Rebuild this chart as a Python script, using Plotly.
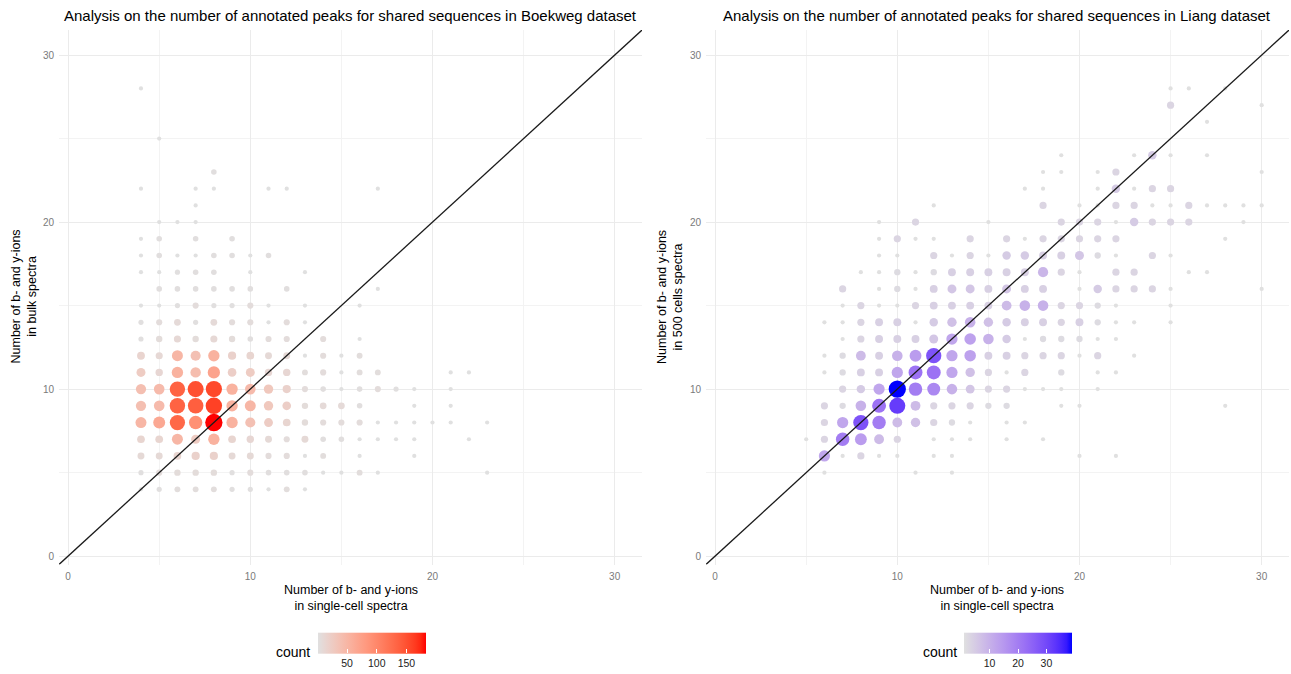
import math
import plotly.graph_objects as go

# ---------------- data: Boekweg (single-cell vs bulk) ----------------
boek_x = [4,
          5,
          8,
          4, 7, 8, 11, 12, 17,
          7,
          5, 6, 7,
          4, 5, 7, 9,
          4, 5, 6, 7, 8, 9, 10, 11,
          4, 5, 6, 7, 8, 10, 13,
          5, 6, 7, 8, 9, 10, 12, 17,
          4, 5, 6, 7, 8, 9, 10, 11, 13, 16,
          4, 5, 6, 7, 8, 9, 10, 11, 12, 13,
          4, 5, 6, 7, 8, 9, 10, 11, 12, 14, 16,
          4, 5, 6, 7, 8, 9, 10, 11, 12, 13, 14, 15, 16,
          4, 5, 6, 7, 8, 9, 10, 11, 12, 13, 14, 15, 16, 17, 21, 22,
          4, 5, 6, 7, 8, 9, 10, 11, 12, 13, 14, 15, 16, 17, 18, 19, 21,
          4, 5, 6, 7, 8, 9, 10, 11, 12, 13, 14, 15, 16, 19, 21,
          4, 5, 6, 7, 8, 9, 10, 11, 12, 13, 14, 15, 16, 17, 18, 19, 20, 21, 23,
          4, 5, 6, 7, 8, 9, 10, 11, 12, 13, 14, 15, 16, 17, 18, 19, 22,
          4, 5, 6, 7, 8, 9, 10, 11, 12, 13, 14, 16, 19,
          4, 5, 6, 7, 8, 9, 10, 11, 12, 13, 14, 15, 16, 17, 23,
          4, 5, 6, 7, 8, 9, 10, 11, 12, 13]
boek_y = [28,
          25,
          23,
          22, 22, 22, 22, 22, 22,
          21,
          20, 20, 20,
          19, 19, 19, 19,
          18, 18, 18, 18, 18, 18, 18, 18,
          17, 17, 17, 17, 17, 17, 17,
          16, 16, 16, 16, 16, 16, 16, 16,
          15, 15, 15, 15, 15, 15, 15, 15, 15, 15,
          14, 14, 14, 14, 14, 14, 14, 14, 14, 14,
          13, 13, 13, 13, 13, 13, 13, 13, 13, 13, 13,
          12, 12, 12, 12, 12, 12, 12, 12, 12, 12, 12, 12, 12,
          11, 11, 11, 11, 11, 11, 11, 11, 11, 11, 11, 11, 11, 11, 11, 11,
          10, 10, 10, 10, 10, 10, 10, 10, 10, 10, 10, 10, 10, 10, 10, 10, 10,
          9, 9, 9, 9, 9, 9, 9, 9, 9, 9, 9, 9, 9, 9, 9,
          8, 8, 8, 8, 8, 8, 8, 8, 8, 8, 8, 8, 8, 8, 8, 8, 8, 8, 8,
          7, 7, 7, 7, 7, 7, 7, 7, 7, 7, 7, 7, 7, 7, 7, 7, 7,
          6, 6, 6, 6, 6, 6, 6, 6, 6, 6, 6, 6, 6,
          5, 5, 5, 5, 5, 5, 5, 5, 5, 5, 5, 5, 5, 5, 5,
          4, 4, 4, 4, 4, 4, 4, 4, 4, 4]
boek_n = [1,
          1,
          3,
          1, 1, 1, 1, 1, 1,
          1,
          1, 1, 1,
          1, 3, 3, 3,
          1, 3, 1, 1, 3, 3, 1, 3,
          1, 1, 2, 3, 3, 1, 1,
          3, 3, 3, 3, 3, 3, 3, 1,
          1, 1, 2, 5, 2, 2, 5, 1, 1, 1,
          2, 5, 8, 2, 8, 5, 5, 1, 5, 1,
          2, 6, 10, 6, 10, 6, 3, 5, 5, 5, 1,
          15, 10, 50, 38, 55, 18, 14, 9, 9, 1, 5, 1, 4,
          25, 12, 55, 42, 70, 22, 25, 12, 12, 4, 5, 1, 4, 4, 1, 1,
          40, 45, 135, 150, 155, 55, 45, 30, 18, 5, 3, 1, 3, 5, 2, 1, 1,
          40, 45, 135, 138, 160, 55, 50, 30, 22, 6, 8, 8, 3, 1, 1,
          50, 65, 130, 90, 183, 55, 38, 24, 14, 6, 5, 5, 5, 1, 1, 1, 1, 1, 1,
          14, 14, 50, 25, 55, 14, 12, 9, 5, 9, 3, 3, 1, 1, 1, 1, 1,
          9, 9, 14, 18, 18, 9, 9, 5, 5, 1, 4, 1, 1,
          2, 5, 6, 6, 6, 2, 5, 3, 3, 3, 1, 1, 4, 1, 1,
          1, 2, 4, 4, 4, 2, 2, 1, 4, 1]

# ---------------- data: Liang (single-cell vs 500 cells) ----------------
liang_x = [25, 26, 28,
           25, 30,
           27,
           19, 23, 24, 25, 27,
           18, 19, 21, 22, 30,
           17, 18, 21, 22, 23, 24, 25,
           12, 18, 20, 21, 22, 23, 24, 25, 26, 27, 28, 29, 30,
           9, 11, 15, 19, 20, 21, 22, 23, 24, 25, 26, 29,
           9, 10, 11, 12, 14, 16, 17, 18, 19, 20, 21, 22, 28,
           9, 10, 12, 13, 14, 15, 16, 17, 18, 19, 20, 21, 22, 24, 25,
           8, 9, 10, 11, 12, 13, 14, 15, 16, 17, 18, 19, 20, 22, 23, 26, 27,
           7, 9, 10, 11, 12, 13, 14, 15, 16, 17, 18, 20, 21, 22, 23, 24, 25, 30,
           7, 8, 9, 10, 11, 12, 13, 14, 15, 16, 17, 18, 19, 20, 21, 22, 25,
           6, 7, 8, 9, 10, 11, 12, 13, 14, 15, 16, 17, 18, 19, 20, 21, 22, 23, 25,
           7, 8, 9, 10, 11, 12, 13, 14, 15, 16, 17, 18, 19, 20, 21, 22,
           6, 7, 8, 9, 10, 11, 12, 13, 14, 15, 16, 17, 18, 19, 20, 21, 23,
           6, 7, 8, 9, 10, 11, 12, 13, 14, 15, 16, 17, 19, 21, 22,
           7, 8, 9, 10, 11, 12, 13, 14, 15, 16, 17, 18, 19, 21,
           6, 7, 8, 9, 10, 11, 12, 13, 14, 15, 16, 19, 20, 28,
           6, 7, 8, 9, 10, 11, 12, 13, 14, 16, 17,
           5, 6, 7, 8, 9, 10, 12, 13, 14, 16, 18,
           6, 7, 8, 9, 10, 12, 13, 20, 22,
           6, 11, 13]
liang_y = [28, 28, 28,
           27, 27,
           26,
           24, 24, 24, 24, 24,
           23, 23, 23, 23, 23,
           22, 22, 22, 22, 22, 22, 22,
           21, 21, 21, 21, 21, 21, 21, 21, 21, 21, 21, 21, 21,
           20, 20, 20, 20, 20, 20, 20, 20, 20, 20, 20, 20,
           19, 19, 19, 19, 19, 19, 19, 19, 19, 19, 19, 19, 19,
           18, 18, 18, 18, 18, 18, 18, 18, 18, 18, 18, 18, 18, 18, 18,
           17, 17, 17, 17, 17, 17, 17, 17, 17, 17, 17, 17, 17, 17, 17, 17, 17,
           16, 16, 16, 16, 16, 16, 16, 16, 16, 16, 16, 16, 16, 16, 16, 16, 16, 16,
           15, 15, 15, 15, 15, 15, 15, 15, 15, 15, 15, 15, 15, 15, 15, 15, 15,
           14, 14, 14, 14, 14, 14, 14, 14, 14, 14, 14, 14, 14, 14, 14, 14, 14, 14, 14,
           13, 13, 13, 13, 13, 13, 13, 13, 13, 13, 13, 13, 13, 13, 13, 13,
           12, 12, 12, 12, 12, 12, 12, 12, 12, 12, 12, 12, 12, 12, 12, 12, 12,
           11, 11, 11, 11, 11, 11, 11, 11, 11, 11, 11, 11, 11, 11, 11,
           10, 10, 10, 10, 10, 10, 10, 10, 10, 10, 10, 10, 10, 10,
           9, 9, 9, 9, 9, 9, 9, 9, 9, 9, 9, 9, 9, 9,
           8, 8, 8, 8, 8, 8, 8, 8, 8, 8, 8,
           7, 7, 7, 7, 7, 7, 7, 7, 7, 7, 7,
           6, 6, 6, 6, 6, 6, 6, 6, 6,
           5, 5, 5]
liang_n = [1, 1, 1,
           3, 1,
           1,
           1, 1, 5, 1, 1,
           1, 1, 1, 3, 1,
           1, 1, 1, 5, 1, 3, 3,
           1, 3, 1, 1, 3, 3, 1, 1, 3, 1, 1, 1, 1,
           1, 3, 1, 3, 3, 3, 1, 5, 3, 3, 3, 1,
           1, 3, 1, 1, 3, 3, 1, 3, 3, 3, 3, 3, 1,
           1, 1, 3, 1, 3, 1, 5, 5, 4, 4, 6, 2, 1, 3, 1,
           1, 1, 2, 1, 2, 4, 4, 4, 4, 4, 9, 3, 1, 3, 3, 1, 1,
           3, 1, 2, 1, 4, 6, 6, 4, 6, 4, 4, 1, 5, 3, 3, 3, 1, 1,
           1, 3, 1, 1, 3, 4, 4, 4, 4, 8, 10, 10, 3, 3, 2, 1, 1,
           1, 1, 3, 4, 4, 1, 5, 7, 10, 7, 5, 4, 4, 3, 4, 2, 1, 1, 1,
           1, 3, 4, 4, 4, 6, 12, 13, 10, 5, 1, 2, 2, 2, 1, 1,
           1, 2, 8, 4, 10, 14, 28, 12, 13, 4, 4, 3, 3, 3, 1, 3, 1,
           1, 2, 4, 4, 12, 22, 22, 12, 7, 3, 1, 3, 2, 1, 1,
           3, 5, 12, 39, 20, 18, 10, 6, 3, 3, 1, 1, 1, 1,
           3, 2, 10, 22, 32, 8, 3, 3, 3, 2, 2, 1, 1, 1,
           3, 12, 28, 20, 8, 7, 3, 2, 1, 1, 1,
           1, 3, 20, 14, 8, 3, 1, 1, 1, 1, 1,
           12, 1, 3, 1, 1, 1, 1, 1, 1,
           1, 1, 1]

tick_vals = [0, 10, 20, 30]
titles = ["Analysis on the number of annotated peaks for shared sequences in Boekweg dataset",
          "Analysis on the number of annotated peaks for shared sequences in Liang dataset"]
x_title = "Number of b- and y-ions<br>in single-cell spectra"
y_titles = ["Number of b- and y-ions<br>in bulk spectra",
            "Number of b- and y-ions<br>in 500 cells spectra"]
legend_ticks = [[50, 100, 150], [10, 20, 30]]

# ---------------- styling helpers ----------------
W, H = 1291, 674
AX_RANGE = [-0.5, 31.5]
LOW = (224, 224, 224)
FONT = "Liberation Sans, Arial, sans-serif"


def _lin(c):
    c /= 255.0
    return c / 12.92 if c <= 0.04045 else ((c + 0.055) / 1.055) ** 2.4


def _gam(c):
    c = 12.92 * c if c <= 0.0031308 else 1.055 * c ** (1 / 2.4) - 0.055
    return max(0, min(255, round(c * 255)))


def to_lab(rgb):
    r, g, b = (_lin(v) for v in rgb)
    X = (0.4124564 * r + 0.3575761 * g + 0.1804375 * b) / 0.95047
    Y = 0.2126729 * r + 0.7151522 * g + 0.0721750 * b
    Z = (0.0193339 * r + 0.1191920 * g + 0.9503041 * b) / 1.08883
    f = lambda t: t ** (1 / 3) if t > (6 / 29) ** 3 else t / (3 * (6 / 29) ** 2) + 4 / 29
    fx, fy, fz = f(X), f(Y), f(Z)
    return (116 * fy - 16, 500 * (fx - fy), 200 * (fy - fz))


def from_lab(lab):
    L, a, b = lab
    fy = (L + 16) / 116
    fx = fy + a / 500
    fz = fy - b / 200
    finv = lambda t: t ** 3 if t > 6 / 29 else 3 * (6 / 29) ** 2 * (t - 4 / 29)
    X, Y, Z = finv(fx) * 0.95047, finv(fy), finv(fz) * 1.08883
    r = 3.2404542 * X - 1.5371385 * Y - 0.4985314 * Z
    g = -0.9692660 * X + 1.8760108 * Y + 0.0415560 * Z
    bb = 0.0556434 * X - 0.2040259 * Y + 1.0572252 * Z
    return "rgb(%d,%d,%d)" % (_gam(max(r, 0)), _gam(max(g, 0)), _gam(max(bb, 0)))


def lab_scale(low, high, n=21):
    l1, l2 = to_lab(low), to_lab(high)
    out = []
    for i in range(n):
        t = i / (n - 1)
        out.append([t, from_lab(tuple(l1[k] + (l2[k] - l1[k]) * t for k in range(3)))])
    return out


def sizes(counts):
    lo, hi = min(counts), max(counts)
    return [4.2 + 13.1 * math.sqrt((c - lo) / (hi - lo)) for c in counts]


def px(x):
    return x / W


def py(y):
    return (H - y) / H


fig = go.Figure()
fig.add_trace(go.Scatter(x=boek_x, y=boek_y, mode="markers", xaxis="x", yaxis="y",
                         marker=dict(color=boek_n, coloraxis="coloraxis", size=sizes(boek_n),
                                     line=dict(width=0), opacity=1), showlegend=False))
fig.add_trace(go.Scatter(x=liang_x, y=liang_y, mode="markers", xaxis="x2", yaxis="y2",
                         marker=dict(color=liang_n, coloraxis="coloraxis2", size=sizes(liang_n),
                                     line=dict(width=0), opacity=1), showlegend=False))

axis_common = dict(range=AX_RANGE, tickmode="array", tickvals=tick_vals,
                   ticktext=[str(v) for v in tick_vals],
                   showgrid=True, gridcolor="#EBEBEB", gridwidth=1,
                   minor=dict(tickmode="linear", tick0=0, dtick=5, showgrid=True,
                              gridcolor="#F3F3F3", gridwidth=0.6),
                   zeroline=False, showline=False, ticks="", ticklabelstandoff=4,
                   tickfont=dict(family=FONT, size=10, color="#7a7a7a"))

ydom = [py(564.5), py(30)]
fig.update_layout(
    width=W, height=H,
    margin=dict(l=0, r=0, t=0, b=0, autoexpand=False),
    paper_bgcolor="white", plot_bgcolor="white",
    font=dict(family=FONT, color="black"),
    xaxis=dict(domain=[px(59), px(642)], anchor="y", **axis_common),
    yaxis=dict(domain=ydom, anchor="x", **axis_common),
    xaxis2=dict(domain=[px(706), px(1289)], anchor="y2", **axis_common),
    yaxis2=dict(domain=ydom, anchor="x2", **axis_common),
)

bar_y = py(653)
for i, (name, high, lo, hi, left) in enumerate([("coloraxis", (255, 0, 0), min(boek_n), max(boek_n), 318),
                                                ("coloraxis2", (0, 0, 255), min(liang_n), max(liang_n), 964)]):
    fig.update_layout(**{name: dict(
        colorscale=lab_scale(LOW, high), cmin=lo, cmax=hi,
        colorbar=dict(orientation="h", x=px(left), xanchor="left", y=bar_y, yanchor="middle",
                      len=107.5, lenmode="pixels", thickness=21, thicknessmode="pixels",
                      xpad=0, ypad=0, outlinewidth=0, tickmode="array", tickvals=legend_ticks[i],
                      ticks="inside", tickcolor="white", ticklen=4, tickwidth=1,
                      tickfont=dict(family=FONT, size=10.5, color="#222222"),
                      title=dict(text="")))})

annots = []
centers = [350.5, 997.5]
for i in range(2):
    annots.append(dict(text=titles[i], x=px(centers[i]), y=py(15), xref="paper", yref="paper",
                       xanchor="center", yanchor="middle", showarrow=False,
                       font=dict(family=FONT, size=15, color="black")))
    annots.append(dict(text=x_title, x=px(centers[i]), y=py(598), xref="paper", yref="paper",
                       xanchor="center", yanchor="middle", showarrow=False,
                       font=dict(family=FONT, size=12.5, color="black")))
    annots.append(dict(text=y_titles[i], x=px([23.5, 670][i]), y=py(297), xref="paper", yref="paper",
                       xanchor="center", yanchor="middle", showarrow=False, textangle=-90,
                       font=dict(family=FONT, size=12.5, color="black")))
    annots.append(dict(text="count", x=px([312, 959][i]), y=py(652), xref="paper", yref="paper",
                       xanchor="right", yanchor="middle", showarrow=False,
                       font=dict(family=FONT, size=14, color="black")))
fig.update_layout(annotations=annots)

shapes = []
for xr, yr in [("x", "y"), ("x2", "y2")]:
    shapes.append(dict(type="line", xref=xr, yref=yr, x0=AX_RANGE[0], y0=AX_RANGE[0],
                       x1=AX_RANGE[1], y1=AX_RANGE[1], layer="above",
                       line=dict(color="#1a1a1a", width=1.3)))
fig.update_layout(shapes=shapes)

fig.write_html("out.html", config={"displayModeBar": False},
               post_script="document.body.style.margin='0';document.body.style.overflow='hidden';")
